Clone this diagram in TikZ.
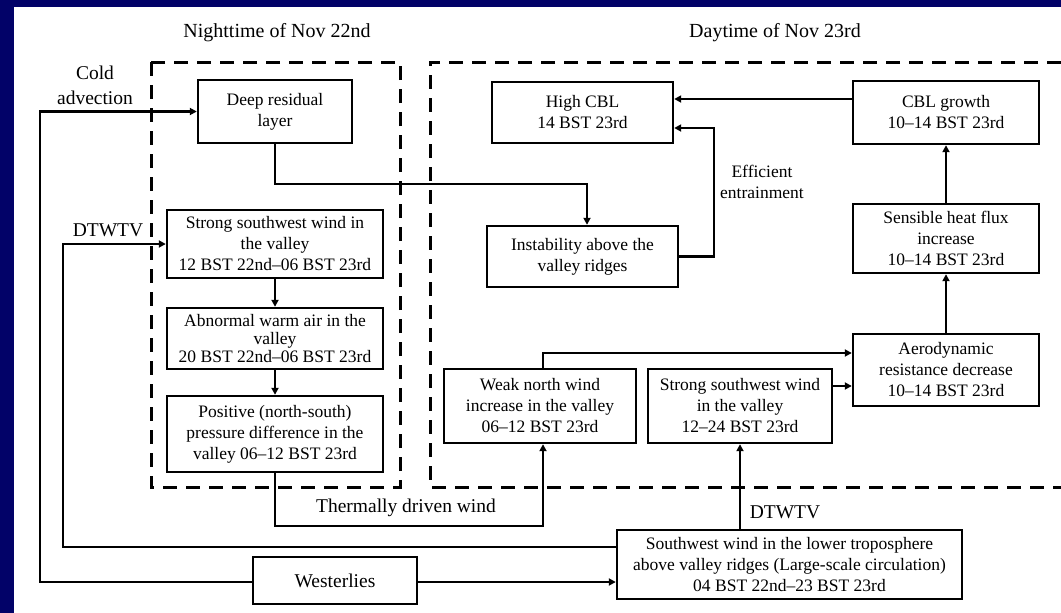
\documentclass[tikz,border=0pt]{standalone}
\usepackage{fontspec}
\setmainfont{Liberation Serif}
\usepackage{tikz}
\usetikzlibrary{arrows.meta}
\definecolor{fc-navy}{HTML}{020268}

\begin{document}
\begin{tikzpicture}[x=1pt, y=-1pt,
    box/.style={draw, line width=2.4pt, align=center, inner sep=2pt, font=\fontsize{17.5}{21}\selectfont},
    lbl/.style={align=center, font=\fontsize{19.5}{25}\selectfont},
    link/.style={line width=2.2pt, -{Triangle[length=7pt,width=7pt]}},
    period/.style={line width=3pt, dash pattern=on 14pt off 9pt}]
    \useasboundingbox (0,0) rectangle (1061,613);
    \fill[fc-navy] (0,0) rectangle (1061,613);
    \fill[white] (14,7) rectangle (1061,613);

    % night and day frames
    \node[lbl, font=\fontsize{20}{24}\selectfont] (night-title) at (277,33) {Nighttime of Nov 22nd};
    \node[lbl, font=\fontsize{20}{24}\selectfont] (day-title) at (775,33) {Daytime of Nov 23rd};
    \draw[period] (151,62) rectangle (400,487);
    \draw[period] (1061,62) -- (430,62) -- (430,487) -- (1061,487);

    \node[box, minimum width=154pt, minimum height=63pt] (deep) at (275,111.5) {Deep residual\\layer};
    \node[box, minimum width=216pt, minimum height=68pt] (nsw) at (275,244) {Strong southwest wind in\\the valley\\12 BST 22nd--06 BST 23rd};
    \node[box, minimum width=216pt, minimum height=61pt, font=\fontsize{17.5}{18}\selectfont] (warm) at (275,338.5) {Abnormal warm air in the\\valley\\20 BST 22nd--06 BST 23rd};
    \node[box, minimum width=216pt, minimum height=76pt] (press) at (275,434) {Positive (north-south)\\pressure difference in the\\valley 06--12 BST 23rd};
    \node[box, minimum width=181pt, minimum height=61pt] (high) at (582.5,112.5) {High CBL\\14 BST 23rd};
    \node[box, minimum width=191pt, minimum height=61pt] (instab) at (582.5,256.5) {Instability above the\\valley ridges};
    \node[box, minimum width=186pt, minimum height=63pt] (grow) at (946,112.5) {CBL growth\\10--14 BST 23rd};
    \node[box, minimum width=186pt, minimum height=69pt] (heat) at (946,238.5) {Sensible heat flux\\increase\\10--14 BST 23rd};
    \node[box, minimum width=186pt, minimum height=72pt] (aero) at (946,370) {Aerodynamic\\resistance decrease\\10--14 BST 23rd};
    \node[box, minimum width=192pt, minimum height=74pt] (weak) at (540,406) {Weak north wind\\increase in the valley\\06--12 BST 23rd};
    \node[box, minimum width=184pt, minimum height=74pt] (dsw) at (740,406) {Strong southwest wind\\in the valley\\12--24 BST 23rd};
    \node[box, minimum width=164pt, minimum height=47pt, font=\fontsize{19.5}{24}\selectfont] (west) at (335,580.5) {Westerlies};
    \node[box, minimum width=345pt, minimum height=69pt] (trop) at (789.5,564.5) {Southwest wind in the lower troposphere\\above valley ridges (Large-scale circulation)\\04 BST 22nd--23 BST 23rd};

    \node[lbl] (cold-lbl) at (95,85) {Cold\\advection};
    \node[lbl] (dt-night-lbl) at (108,230) {DTWTV};
    \node[lbl] (dt-day-lbl) at (785,512) {DTWTV};
    \node[lbl] (thermal-lbl) at (406,508) {Thermally driven wind};
    \node[box, draw=none] (entrain-lbl) at (762,182) {Efficient\\entrainment};

    \coordinate (cold-turn) at (40,582);
    \coordinate (dt-turn) at (63,547);
    \coordinate (thermal-turn) at (543,526);
    \coordinate (weak-turn) at (543,353);
    \coordinate (side-link) at (840,386);
    \coordinate (growth-link) at (760,99);
    \coordinate (deep-turn) at (587,184);
    \coordinate (entrain-turn) at (714,128);

    \draw[link] (west.west |- cold-turn) -- (cold-turn) |- (deep.west);
    \draw[link] (west.east |- cold-turn) -- (trop.west |- cold-turn);
    \draw[link] (trop.west |- dt-turn) -- (dt-turn) |- (nsw.west);
    \draw[link] (nsw.south) -- (warm.north);
    \draw[link] (warm.south) -- (press.north);
    \draw[link] (press.south) |- (thermal-turn) -- (thermal-turn |- weak.south);
    \draw[link] (thermal-turn |- weak.north) -- (weak-turn) -- (weak-turn -| aero.west);
    \draw[link] (dsw.east |- side-link) -- (aero.west |- side-link);
    \draw[link] (dsw.south |- trop.north) -- (dsw.south);
    \draw[link] (aero.north) -- (heat.south);
    \draw[link] (heat.north) -- (grow.south);
    \draw[link] (grow.west |- growth-link) -- (high.east |- growth-link);
    \draw[link] (deep.south) |- (deep-turn) -- (deep-turn |- instab.north);
    \draw[link] (instab.east) -| (entrain-turn) -- (entrain-turn -| high.east);
\end{tikzpicture}
\end{document}
